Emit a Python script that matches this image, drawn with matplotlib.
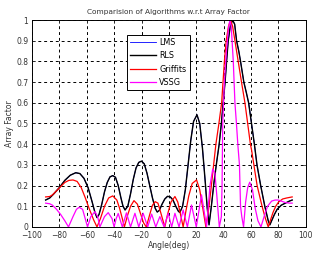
import matplotlib
matplotlib.use("Agg")
import matplotlib.pyplot as plt

# values (angle in deg, normalised array factor)
rls_angle = [-90, -87, -84, -80, -76, -72, -68, -65, -62, -59, -56, -54, -52.5, -51, -49, -47,
             -45, -43, -41, -39, -37, -35, -33.5, -32, -30, -28, -26, -24, -22, -20, -18, -16,
             -14, -12, -10, -8.5, -7, -5, -3, -1, 1, 3, 5, 7, 8, 10, 12, 14, 16, 18, 20.5,
             22.5, 24.5, 26.5, 28, 29.3, 31, 33, 35, 36.7, 38.3, 39.6, 41, 42.1, 43.3, 44.8,
             46.5, 48, 49.4, 51, 52.3, 54.7, 56.5, 58.2, 60.3, 62.4, 64.3, 67, 70, 72.5, 73.7,
             75, 77, 79, 82, 85, 88, 90]
rls_af = [0.13, 0.14, 0.16, 0.19, 0.225, 0.25, 0.262, 0.258, 0.235, 0.19, 0.12, 0.07, 0.045,
          0.06, 0.11, 0.17, 0.215, 0.242, 0.248, 0.24, 0.2, 0.14, 0.1, 0.082, 0.1, 0.16, 0.23,
          0.285, 0.312, 0.318, 0.305, 0.26, 0.2, 0.14, 0.09, 0.072, 0.08, 0.11, 0.135, 0.148,
          0.145, 0.13, 0.1, 0.075, 0.07, 0.1, 0.18, 0.3, 0.42, 0.51, 0.542, 0.5, 0.38, 0.22,
          0.09, 0.01, 0.1, 0.22, 0.32, 0.4, 0.5, 0.6, 0.7, 0.8, 0.9, 0.97, 1.0, 0.98, 0.9,
          0.85, 0.8, 0.7, 0.65, 0.6, 0.5, 0.4, 0.3, 0.2, 0.1, 0.03, 0.01, 0.03, 0.06, 0.085,
          0.105, 0.115, 0.125, 0.13]

# LMS lies exactly under RLS in the reference
lms_angle = list(rls_angle)
lms_af = list(rls_af)

griffiths_angle = [-90, -87, -85, -82, -79, -76, -73, -70, -67, -64, -61, -58, -55, -52.5, -50,
                   -47, -44, -41, -38, -36, -34, -32.5, -30, -28, -25.5, -23, -20.5, -18.5,
                   -16.5, -14, -12, -10, -8, -6, -3, -1, 1.5, 4.4, 6.5, 8.5, 10.4, 12.5, 14.5,
                   17, 20.2, 22.5, 24.5, 27, 29.3, 31, 34.3, 36.5, 38.5, 40.5, 41.8, 43.5, 45,
                   46.5, 48.2, 50.6, 53, 55.5, 57.5, 59.5, 60.4, 62.5, 64.4, 68, 70.5, 72.5, 74,
                   76, 78, 80, 83, 86, 90]
griffiths_af = [0.145, 0.147, 0.155, 0.175, 0.195, 0.215, 0.225, 0.227, 0.22, 0.19, 0.14,
                0.085, 0.035, 0.0, 0.04, 0.1, 0.14, 0.15, 0.13, 0.09, 0.04, 0.0, 0.06, 0.1,
                0.127, 0.11, 0.06, 0.02, 0.0, 0.06, 0.105, 0.122, 0.115, 0.07, 0.0, 0.06, 0.12,
                0.147, 0.12, 0.06, 0.0, 0.08, 0.15, 0.21, 0.227, 0.18, 0.1, 0.0, 0.1, 0.2, 0.4,
                0.5, 0.6, 0.8, 0.9, 0.97, 1.0, 0.97, 0.9, 0.8, 0.7, 0.6, 0.5, 0.4, 0.37, 0.28,
                0.2, 0.1, 0.04, 0.0, 0.03, 0.07, 0.1, 0.12, 0.135, 0.14, 0.145]

vssg_angle = [-90, -87, -85, -82, -79, -76, -73.3, -70, -67.5, -65.5, -63, -59.4, -57, -54,
              -52, -50.4, -47, -44.3, -41.5, -40, -38.5, -37, -34, -31, -28, -24.8, -22,
              -18.8, -15.5, -12.6, -9.6, -6.6, -3.5, -0.5, 2, 4.4, 7.4, 10.4, 13.5, 16.5,
              20, 23.8, 27.5, 30, 32, 33.6, 35, 36.8, 38.3, 38.8, 39.3, 40.5, 42, 43.5, 44.5,
              45.5, 47, 48.2, 49.3, 50.3, 51.5, 52.3, 53.2, 54.5, 56, 57.5, 59, 61, 63, 65,
              67.2, 69.5, 72, 75, 77.5, 79.8, 82, 85, 88, 90]
vssg_af = [0.115, 0.112, 0.105, 0.085, 0.06, 0.03, 0.0, 0.05, 0.085, 0.095, 0.085, 0.0, 0.05,
           0.074, 0.05, 0.0, 0.05, 0.069, 0.04, 0.0, 0.04, 0.065, 0.0, 0.068, 0.0, 0.066, 0.0,
           0.066, 0.0, 0.062, 0.0, 0.05, 0.0, 0.066, 0.0, 0.066, 0.0, 0.082, 0.0, 0.106, 0.0,
           0.155, 0.0, 0.2, 0.28, 0.26, 0.15, 0.0, 0.05, 0.2, 0.5, 0.7, 0.85, 0.96, 1.0, 0.97,
           0.8, 0.6, 0.5, 0.4, 0.3, 0.1, 0.05, 0.0, 0.12, 0.19, 0.216, 0.18, 0.09, 0.03, 0.0,
           0.05, 0.1, 0.125, 0.13, 0.13, 0.125, 0.118, 0.115, 0.115]

x_ticks = list(range(-100, 101, 20))
y_ticks = [round(0.1 * i, 1) for i in range(11)]

plt.rcParams['font.family'] = ['DejaVu Sans']

fig = plt.figure(figsize=(3.16, 2.57), dpi=100)
fig.patch.set_facecolor('white')
ax = fig.add_axes([0.101, 0.117, 0.867, 0.805])

ax.plot(lms_angle, lms_af, color='blue', lw=0.6, label='LMS')
ax.plot(rls_angle, rls_af, color='black', lw=1.0, label='RLS')
ax.plot(griffiths_angle, griffiths_af, color='red', lw=0.9, label='Griffits')
ax.plot(vssg_angle, vssg_af, color='magenta', lw=0.9, label='VSSG')

ax.set_xlim(-100, 100)
ax.set_ylim(0, 1)
ax.set_xticks(x_ticks)
ax.set_yticks(y_ticks)
ax.set_yticklabels(['0' if v == 0 else ('1' if v == 1 else '%g' % v) for v in y_ticks])
ax.tick_params(direction='in', length=2.5, width=0.6, labelsize=5.5,
               top=True, right=True, colors='#333333')
ax.tick_params(axis='x', pad=3)
ax.tick_params(axis='y', pad=2.5)
ax.grid(True, color='black', linestyle=(0, (3, 3)), linewidth=0.7)
for s in ax.spines.values():
    s.set_linewidth(0.7)

ax.set_title('Comparision of Algorithms w.r.t Array Factor', fontsize=5.3, pad=4,
             color='#333333')
ax.set_xlabel('Angle(deg)', fontsize=5.5, labelpad=1, color='#333333')
ax.set_ylabel('Array Factor', fontsize=5.5, labelpad=2, color='#333333')

leg = ax.legend(loc='upper left', bbox_to_anchor=(0.347, 0.93), fontsize=5.8,
                frameon=True, fancybox=False, edgecolor='black', framealpha=1,
                handlelength=3.2, handletextpad=0.4, borderpad=0.4, labelspacing=0.55,
                borderaxespad=0)
leg.get_frame().set_linewidth(0.7)

fig.savefig('out.png', dpi=100, facecolor='white')
